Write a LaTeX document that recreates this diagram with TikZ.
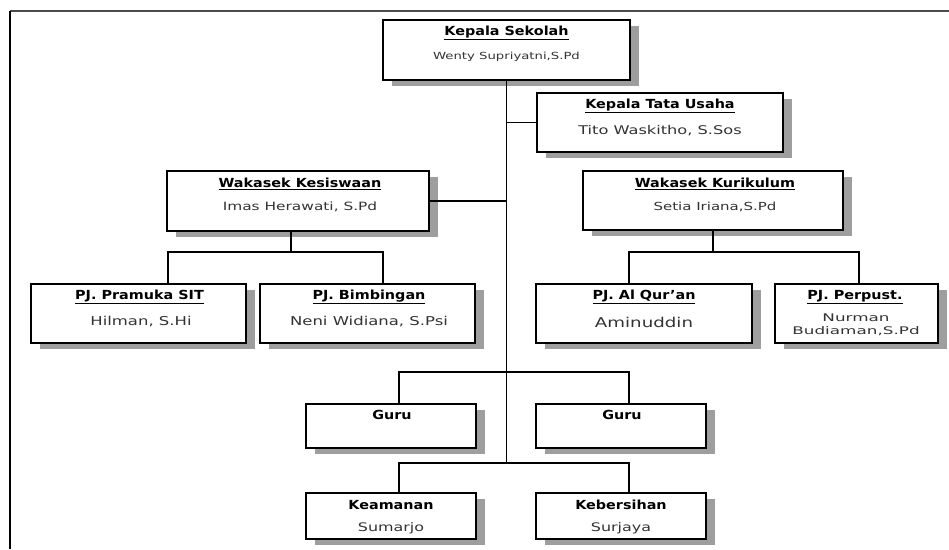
\documentclass[tikz,border=0pt]{standalone}
\usepackage{fontspec}
\setmainfont[FakeStretch=1.15]{DejaVu Sans}
\newfontfamily\nmfont[FakeStretch=1.35]{DejaVu Sans}
\newfontfamily\widefont[FakeStretch=1.6]{DejaVu Sans}
\usetikzlibrary{calc}
\tikzset{
  orgbox/.style={draw=black, line width=1.7pt, fill=white, rectangle, inner sep=0pt, outer sep=0pt},
  shadowbox/.style={fill=black!38},
  ttl/.style={inner sep=0pt, font=\fontsize{12.5}{14}\selectfont\bfseries, text=black},
  nm/.style={inner sep=0pt, text=black!80},
  conn/.style={line width=1.8pt, draw=black},
  frameline/.style={line width=2pt, draw=black},
}
\newcommand\obox[5]{%
  \fill[shadowbox] (#2+9,#3+6) rectangle (#4+9,#5+6);
  \node[orgbox, minimum width={(#4-#2)*1pt}, minimum height={(#5-#3)*1pt}] (#1) at ({(#2+#4)/2},{(#3+#5)/2}) {};
}
\begin{document}
\begin{tikzpicture}[x=1pt,y=-1pt]
\useasboundingbox (0,0) rectangle (949,549);
% frame
\coordinate (fTL) at (10,11);
\coordinate (fTR) at (949,11);
\coordinate (fBL) at (10,549);
\draw[line width=1.6pt, draw=black!70] (fTL) -- (fTR);
\draw[frameline] (fTL) -- (fBL);

% boxes
\obox{ks}{383}{20}{630}{80}
\obox{tu}{537}{93}{783}{152}
\obox{kes}{167}{171}{429}{231}
\obox{kur}{583}{171}{843}{230}
\obox{pram}{31}{284}{246}{343}
\obox{bim}{260}{284}{475}{343}
\obox{aq}{536}{284}{752}{343}
\obox{per}{775}{284}{938}{343}
\obox{g1}{306}{404}{476}{448}
\obox{g2}{536}{404}{706}{448}
\obox{kea}{306}{493}{476}{539}
\obox{keb}{536}{493}{706}{539}

% junction coordinates
\coordinate (jB) at (506.5,463);
\coordinate (gJ) at (506.5,372);
\coordinate (kesD) at (291,252);
\coordinate (kurD) at (713,252);
\coordinate (pramT) at (168,284);
\coordinate (bimT) at (383,284);
\coordinate (aqT) at (629,284);
\coordinate (perT) at (859,284);
\coordinate (g1T) at (399,404);
\coordinate (g2T) at (629,404);
\coordinate (keaT) at (399,493);
\coordinate (kebT) at (629,493);

% connectors
\draw[conn] (ks.south) -- (jB);
\draw[conn] (tu.west) -- (tu.west -| jB);
\draw[conn] (kes.east) -- (kes.east -| jB);
\draw[conn] (kesD |- kes.south) -- (kesD);
\draw[conn] (pramT) -- (pramT |- kesD) -- (bimT |- kesD) -- (bimT);
\draw[conn] (kur.south) -- (kurD);
\draw[conn] (aqT) -- (aqT |- kurD) -- (perT |- kurD) -- (perT);
\draw[conn] (g1T) -- (g1T |- gJ) -- (g2T |- gJ) -- (g2T);
\draw[conn] (keaT) -- (keaT |- jB) -- (kebT |- jB) -- (kebT);

% texts
\node[ttl] (ks-t) at (506.5,33) {\underline{Kepala Sekolah}};
\node[nm, font=\nmfont\fontsize{9.8}{12}\selectfont] (ks-n) at (506.5,57) {Wenty Supriyatni,S.Pd};

\node[ttl] (tu-t) at (660,106) {\underline{Kepala Tata Usaha}};
\node[nm, font=\nmfont\fontsize{12}{14}\selectfont] (tu-n) at (660,131) {Tito Waskitho, S.Sos};

\node[ttl] (kes-t) at (300,184) {\underline{Wakasek Kesiswaan}};
\node[nm, font=\nmfont\fontsize{11.4}{14}\selectfont] (kes-n) at (300,207) {Imas Herawati, S.Pd};

\node[ttl] (kur-t) at (715,184) {\underline{Wakasek Kurikulum}};
\node[nm, font=\nmfont\fontsize{11.1}{14}\selectfont] (kur-n) at (715,207) {Setia Iriana,S.Pd};

\node[ttl] (pram-t) at (139.5,297) {\underline{PJ. Pramuka SIT}};
\node[nm, font=\nmfont\fontsize{12.2}{14}\selectfont] (pram-n) at (141,322) {Hilman, S.Hi};

\node[ttl] (bim-t) at (369,297) {\underline{PJ. Bimbingan}};
\node[nm, font=\nmfont\fontsize{12.2}{14}\selectfont] (bim-n) at (369,322) {Neni Widiana, S.Psi};

\node[ttl] (aq-t) at (644,297) {\underline{PJ. Al Qur’an}};
\node[nm, font=\nmfont\fontsize{13.5}{14}\selectfont] (aq-n) at (644,322) {Aminuddin};

\node[ttl] (per-t) at (855,297) {\underline{PJ. Perpust.}};
\node[nm, font=\widefont\fontsize{10.5}{13.5}\selectfont, align=center] (per-n) at (856,325) {Nurman\\Budiaman,S.Pd};

\node[ttl] (g1-t) at (392,415) {Guru};
\node[ttl] (g2-t) at (622,415) {Guru};

\node[ttl] (kea-t) at (391,505) {Keamanan};
\node[nm, font=\nmfont\fontsize{11.8}{14}\selectfont] (kea-n) at (391,528) {Sumarjo};

\node[ttl] (keb-t) at (621,505) {Kebersihan};
\node[nm, font=\nmfont\fontsize{11.8}{14}\selectfont] (keb-n) at (621,528) {Surjaya};
\end{tikzpicture}
\end{document}
